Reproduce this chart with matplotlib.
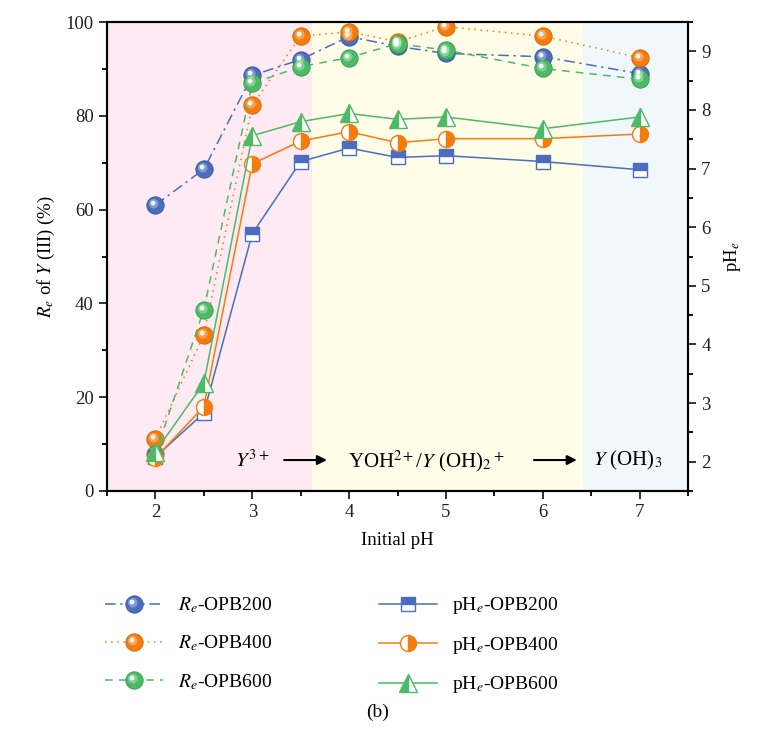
import matplotlib
matplotlib.use("Agg")
import matplotlib.pyplot as plt
from matplotlib.markers import MarkerStyle
from matplotlib.transforms import Affine2D
from matplotlib.ticker import MultipleLocator
from matplotlib.legend_handler import HandlerTuple

plt.rcParams['font.family'] = ['Liberation Serif', 'DejaVu Serif']
plt.rcParams['mathtext.fontset'] = 'stix'

# data
initial_ph = [2, 2.5, 3, 3.5, 4, 4.5, 5, 6, 7]
re_opb200 = [61.0, 68.6, 88.6, 92.0, 96.9, 94.8, 93.3, 92.6, 89.0]
re_opb400 = [11.1, 33.3, 82.2, 97.0, 97.9, 95.8, 99.0, 97.0, 92.4]
re_opb600 = [7.9, 38.7, 86.9, 90.5, 92.4, 95.4, 94.0, 90.1, 87.8]
phe_opb200 = [2.08, 2.83, 5.89, 7.12, 7.35, 7.19, 7.22, 7.12, 6.98]
phe_opb400 = [2.06, 2.94, 7.08, 7.47, 7.63, 7.44, 7.51, 7.51, 7.59]
phe_opb600 = [2.17, 3.34, 7.56, 7.80, 7.94, 7.84, 7.88, 7.68, 7.88]

re_labels = [r"$R_e$-OPB200", r"$R_e$-OPB400", r"$R_e$-OPB600"]
phe_labels = [r"pH$_e$-OPB200", r"pH$_e$-OPB400", r"pH$_e$-OPB600"]

# species regions along initial pH
regions = [(1.5, 3.62), (3.62, 6.42), (6.42, 7.5)]
region_colors = ["#fdeaf3", "#fffce8", "#f0f8fb"]

blue = "#4a6ebd"
orange = "#f47c0c"
green = "#4dba65"

fig = plt.figure(figsize=(7.6, 7.39), dpi=100)
ax1 = fig.add_axes([0.1408, 0.3356, 0.7645, 0.6346])
ax2 = ax1.twinx()

for (lo, hi), c in zip(regions, region_colors):
    ax1.axvspan(lo, hi, color=c, lw=0, zorder=0)

glow = MarkerStyle('o', transform=Affine2D().scale(0.55).translate(-0.1, 0.1))
shine = MarkerStyle('o', transform=Affine2D().scale(0.28).translate(-0.14, 0.14))


def sphere_line(ax, y, color, edge, ls):
    base, = ax.plot(initial_ph, y, ls=ls, color=color, lw=1.1, marker='o', ms=12.5,
                    mfc=color, mec=edge, mew=0.6, zorder=3)
    soft, = ax.plot(initial_ph, y, ls='none', marker=glow, ms=12.5,
                    mfc='white', mec='none', alpha=0.3, zorder=4)
    spot, = ax.plot(initial_ph, y, ls='none', marker=shine, ms=12.5,
                    mfc='white', mec='none', alpha=0.9, zorder=5)
    return (base, soft, spot)


h1 = sphere_line(ax1, re_opb200, blue, "#35589e", (0, (7, 3, 1.5, 3)))
h2 = sphere_line(ax1, re_opb400, orange, "#d06600", (0, (1, 3)))
h3 = sphere_line(ax1, re_opb600, green, "#349a4c", (0, (5, 4)))

p1, = ax2.plot(initial_ph, phe_opb200, color=blue, lw=1.1, marker='s', ms=10,
               fillstyle='top', mfc=blue, mfcalt='white', mec=blue, mew=1.0)
p2, = ax2.plot(initial_ph, phe_opb400, color=orange, lw=1.1, marker='o', ms=11.5,
               fillstyle='right', mfc=orange, mfcalt='white', mec=orange, mew=1.0)
p3, = ax2.plot(initial_ph, phe_opb600, color=green, lw=1.1, marker='^', ms=13,
               fillstyle='left', mfc=green, mfcalt='white', mec=green, mew=1.0)

ax1.set_xlim(1.5, 7.5)
ax1.set_ylim(0, 100)
ax2.set_ylim(1.5, 9.5)

ax1.xaxis.set_major_locator(MultipleLocator(1))
ax1.xaxis.set_minor_locator(MultipleLocator(0.5))
ax1.yaxis.set_major_locator(MultipleLocator(20))
ax1.yaxis.set_minor_locator(MultipleLocator(10))
ax2.yaxis.set_major_locator(MultipleLocator(1))
ax2.yaxis.set_minor_locator(MultipleLocator(0.5))

for ax in (ax1, ax2):
    ax.tick_params(which='major', direction='out', length=6, width=1.3, labelsize=13.5, colors='#222222')
    ax.tick_params(which='minor', direction='out', length=3.5, width=1.3)
    for s in ax.spines.values():
        s.set_linewidth(1.5)

ax1.set_xlabel("Initial pH", fontsize=13.5, labelpad=8)
ax1.set_ylabel(r"$R_e$ of $Y$ (III) (%)", fontsize=13.5, labelpad=6)
ax2.set_ylabel(r"pH$_e$", fontsize=13.5, labelpad=8)

# species annotations
ax1.text(3.0, 6.4, r"$Y^{3+}$", ha='center', va='center', fontsize=15)
ax1.annotate("", xy=(3.8, 6.6), xytext=(3.3, 6.6),
             arrowprops=dict(arrowstyle='-|>', color='black', lw=1.5, mutation_scale=14))
ax1.text(4.8, 6.4, r"YOH$^{2+}$/$Y$ (OH)$_2{}^+$", ha='center', va='center', fontsize=15)
ax1.annotate("", xy=(6.38, 6.6), xytext=(5.88, 6.6),
             arrowprops=dict(arrowstyle='-|>', color='black', lw=1.5, mutation_scale=14))
ax1.text(6.88, 6.4, r"$Y$ (OH)$_3$", ha='center', va='center', fontsize=15)

handles = [h1, h2, h3, p1, p2, p3]
labels = re_labels + phe_labels
fig.legend(handles, labels, ncol=2, loc='upper left', bbox_to_anchor=(0.115, 1 - 578 / 739),
           frameon=False, fontsize=14, handlelength=3.0, handletextpad=0.75,
           columnspacing=5.5, labelspacing=0.95,
           handler_map={tuple: HandlerTuple(ndivide=1)})

fig.text(0.497, 1 - 712 / 739, "(b)", ha='center', va='center', fontsize=14)

fig.savefig("out.png", dpi=100)
